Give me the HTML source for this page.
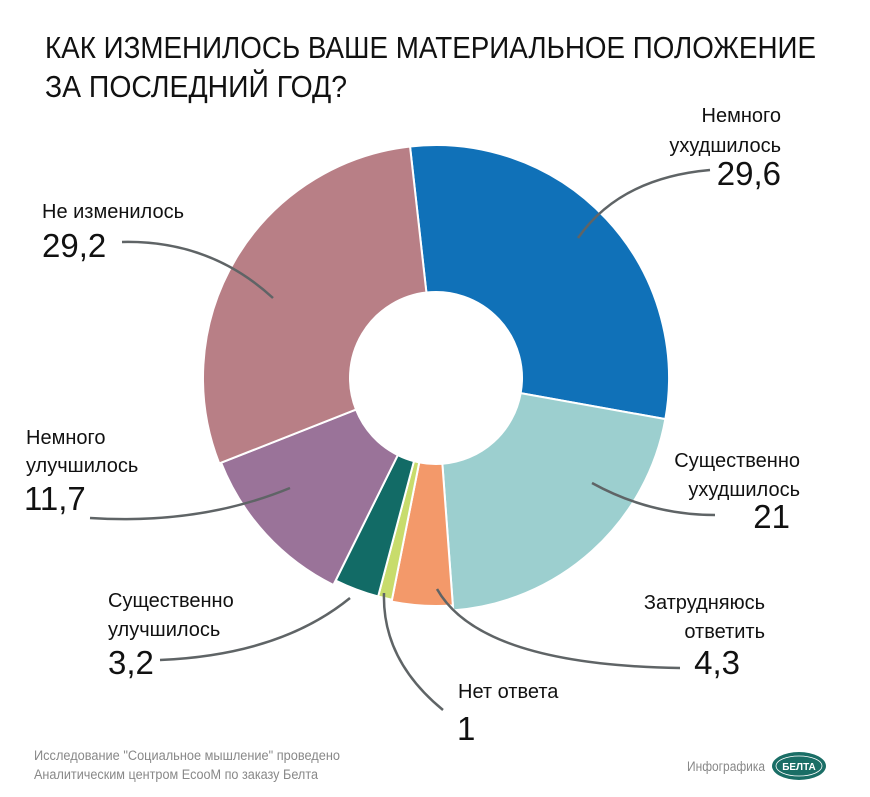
<!DOCTYPE html>
<html><head><meta charset="utf-8"><style>
html,body{margin:0;padding:0;background:#fff;}
svg{display:block;font-family:"Liberation Sans","DejaVu Sans",sans-serif;}
</style></head><body>
<svg id="s" width="870" height="797" viewBox="0 0 870 797" xmlns="http://www.w3.org/2000/svg">
<rect width="870" height="797" fill="#fff"/>
<g id="pie"></g>
<text x="45" y="58" font-size="31" fill="#111" textLength="771" lengthAdjust="spacingAndGlyphs">КАК ИЗМЕНИЛОСЬ ВАШЕ МАТЕРИАЛЬНОЕ ПОЛОЖЕНИЕ</text>
<text x="45" y="97" font-size="31" fill="#111" textLength="302" lengthAdjust="spacingAndGlyphs">ЗА ПОСЛЕДНИЙ ГОД?</text>
<g fill="none" stroke="#5f6466" stroke-width="2.5">
<path d="M578,238 Q620,178 710,170"/>
<path d="M273,298 Q210,240 122,242"/>
<path d="M290,488 Q200,525 90,518"/>
<path d="M350,598 Q280,655 160,660"/>
<path d="M384,593 Q382,660 443,710"/>
<path d="M437,589 Q480,665 680,668"/>
<path d="M592,483 Q650,515 715,515"/>
</g>
<g fill="#111" font-size="20">
<text x="781" y="122" text-anchor="end">Немного</text>
<text x="781" y="152" text-anchor="end">ухудшилось</text>
<text x="781" y="185" font-size="33" text-anchor="end">29,6</text>
<text x="42" y="218">Не изменилось</text>
<text x="42" y="257" font-size="33">29,2</text>
<text x="26" y="444">Немного</text>
<text x="26" y="472">улучшилось</text>
<text x="24" y="510" font-size="33">11,7</text>
<text x="108" y="607">Существенно</text>
<text x="108" y="636">улучшилось</text>
<text x="108" y="674" font-size="33">3,2</text>
<text x="458" y="698">Нет ответа</text>
<text x="457" y="740" font-size="33">1</text>
<text x="765" y="609" text-anchor="end">Затрудняюсь</text>
<text x="765" y="638" text-anchor="end">ответить</text>
<text x="740" y="674" font-size="33" text-anchor="end">4,3</text>
<text x="800" y="467" text-anchor="end">Существенно</text>
<text x="800" y="496" text-anchor="end">ухудшилось</text>
<text x="790" y="528" font-size="33" text-anchor="end">21</text>
</g>
<g fill="#888" font-size="13.5">
<text x="34" y="760" textLength="306" lengthAdjust="spacingAndGlyphs">Исследование "Социальное мышление" проведено</text>
<text x="34" y="779" textLength="284" lengthAdjust="spacingAndGlyphs">Аналитическим центром EcooM по заказу Белта</text>
<text x="687" y="771" textLength="78" lengthAdjust="spacingAndGlyphs">Инфографика</text>
</g>
<ellipse cx="799" cy="766" rx="27" ry="14" fill="#1a6e66"/>
<ellipse cx="799" cy="766" rx="23" ry="10" fill="none" stroke="#fff" stroke-width="0.8"/>
<text x="799" y="770" font-size="10" fill="#fff" text-anchor="middle" font-weight="bold">БЕЛТА</text>
</svg>
<script>
var cx=436,cy=378,ri=86;
var data=[[29.6,"#1071b8",233],[21,"#9ccfcf",233],[4.3,"#f3996a",228],[1,"#c8dc6c",226],[3.2,"#126b66",226],[11.7,"#9a7399",231],[29.2,"#b87f86",233]];
var a=-6.4,h="";
function pt(r,d){var t=(d-90)*Math.PI/180;return (cx+r*Math.cos(t)).toFixed(2)+","+(cy+r*Math.sin(t)).toFixed(2);}
data.forEach(function(s){var b=a+s[0]*3.6,l=(b-a)>180?1:0,r=s[2];
h+='<path d="M'+pt(r,a)+' A'+r+','+r+' 0 '+l+' 1 '+pt(r,b)+' L'+pt(ri,b)+' A'+ri+','+ri+' 0 '+l+' 0 '+pt(ri,a)+' Z" fill="'+s[1]+'" stroke="#fff" stroke-width="2"/>';a=b;});
document.getElementById("pie").innerHTML=h;
</script>
</body></html>
